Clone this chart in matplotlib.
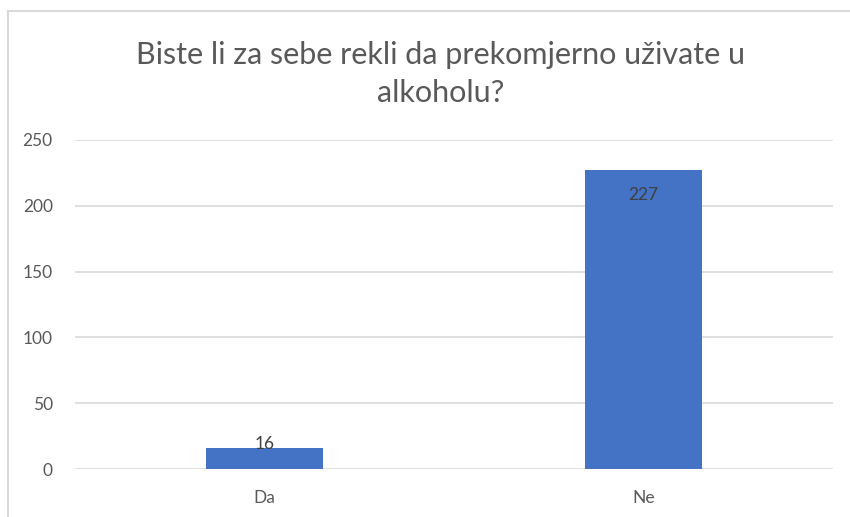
import matplotlib
matplotlib.use("Agg")
import matplotlib.pyplot as plt
from matplotlib.lines import Line2D

categories = ["Da", "Ne"]
counts = [16, 227]
y_ticks = [0, 50, 100, 150, 200, 250]
title = "Biste li za sebe rekli da prekomjerno uživate u\nalkoholu?"

W, H = 850, 517
BAR = "#4472C4"
GREY = "#595959"
GRID = "#D9D9D9"

plt.rcParams["font.family"] = ["Lato", "DejaVu Sans"]

fig = plt.figure(figsize=(W / 100, H / 100), dpi=100)
ax = fig.add_axes([75 / W, 48 / H, 758 / W, 329 / H])

x = range(len(categories))
ax.bar(x, counts, width=0.31, color=BAR, zorder=3)
ax.set_xlim(-0.5, len(categories) - 0.5)
ax.set_ylim(0, 250)
ax.set_yticks(y_ticks)
ax.set_xticks(list(x))
ax.set_xticklabels(categories)
ax.grid(axis="y", color=GRID, linewidth=1.2, zorder=0)
for s in ax.spines.values():
    s.set_visible(False)
ax.tick_params(length=0, labelsize=12.5, colors=GREY)
ax.tick_params(axis="y", pad=16)
ax.tick_params(axis="x", pad=15)

# data labels: the short bar gets its label on top, the tall one inside
ax.annotate(str(counts[0]), (0, counts[0]), xytext=(0, 3), textcoords="offset points",
            ha="center", va="center", fontsize=12.5, color="#404040", zorder=4)
ax.annotate(str(counts[1]), (1, counts[1]), xytext=(0, -18), textcoords="offset points",
            ha="center", va="center", fontsize=12.5, color="#404040", zorder=4)

fig.text(441 / W, 1 - 74 / H, title, ha="center", va="center", fontsize=22,
         color=GREY, linespacing=1.45)

# chart-area border (only top and left visible in the crop)
fig.add_artist(Line2D([8 / W, 1], [1 - 11 / H, 1 - 11 / H], color=GRID, lw=1.5))
fig.add_artist(Line2D([8 / W, 8 / W], [0, 1 - 11 / H], color=GRID, lw=1.5))

fig.savefig("out.png", dpi=100)
